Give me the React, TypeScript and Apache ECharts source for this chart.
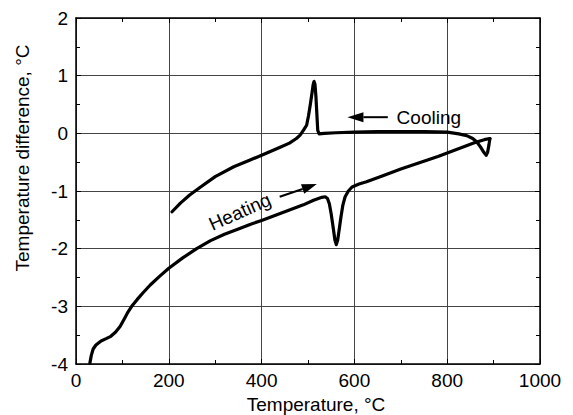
import React, { useEffect, useRef } from "react";
import * as echarts from "echarts";

// Heating run (temperature, °C -> temperature difference, °C)
const heatingT = [
  30, 33, 37, 43, 54, 65, 75, 85, 95, 104, 112, 120, 132, 145, 160, 180, 200, 230, 260, 290, 320, 350,
  375, 400, 430, 460, 490, 512, 530, 537, 542, 546, 550, 554, 558, 561, 564, 567, 571, 575, 580, 587,
  595, 610, 626, 660, 700, 740, 780, 800, 820, 840, 860, 880, 892,
];
const heatingDT = [
  -3.98, -3.85, -3.74, -3.67, -3.6, -3.56, -3.52, -3.45, -3.35, -3.22, -3.1, -3.0, -2.88, -2.76, -2.63,
  -2.48, -2.34, -2.16, -2.0, -1.86, -1.75, -1.66, -1.58, -1.51, -1.42, -1.33, -1.24, -1.16, -1.11, -1.1,
  -1.13, -1.22, -1.4, -1.62, -1.85, -1.93, -1.85, -1.68, -1.45, -1.25, -1.1, -1.0, -0.93, -0.88, -0.84,
  -0.74, -0.62, -0.51, -0.4, -0.34, -0.28, -0.22, -0.16, -0.11, -0.09,
];

// Cooling run (in measurement order, from high to low temperature)
const coolingT = [
  892, 890, 887, 884, 879, 872, 864, 855, 842, 825, 800, 750, 700, 650, 600, 560, 535, 524, 521, 519,
  517, 515, 513, 511, 509, 505, 501, 497, 490, 483, 475, 460, 440, 420, 400, 370, 340, 300, 267, 245,
  225, 207,
];
const coolingDT = [
  -0.09, -0.2, -0.33, -0.38, -0.33, -0.24, -0.15, -0.09, -0.04, -0.01, 0.02, 0.03, 0.03, 0.03, 0.02,
  0.01, 0.0, -0.01, 0.05, 0.35, 0.65, 0.85, 0.9, 0.84, 0.72, 0.5, 0.3, 0.14, 0.05, -0.03, -0.09, -0.17,
  -0.24, -0.31, -0.38, -0.48, -0.58, -0.75, -0.94, -1.07, -1.21, -1.36,
];

const xTitle = "Temperature, °C";
const yTitle = "Temperature difference, °C";
const coolingLabel = "Cooling";
const heatingLabel = "Heating";

const FONT = "'Liberation Sans', Arial, Helvetica, sans-serif";

export default function App() {
  const ref = useRef<HTMLDivElement>(null);

  useEffect(() => {
    document.body.style.margin = "0";
    const chart = echarts.init(ref.current!, null, { renderer: "svg" });

    const axisLine = { show: true, onZero: false, lineStyle: { color: "#000", width: 1.5 } };
    const tick = { show: true, inside: true, length: 5, lineStyle: { color: "#000", width: 1 } };
    const minor = { show: true, splitNumber: 2, length: 4, lineStyle: { color: "#000", width: 1 } };
    const label = {
      fontFamily: FONT,
      fontSize: 19,
      color: "#000",
      formatter: (v: number) => String(v),
    };

    const xBase = { type: "value", min: 0, max: 1000, interval: 200 };
    const yBase = { type: "value", min: -4, max: 2, interval: 1 };

    chart.setOption({
      animation: false,
      backgroundColor: "#fff",
      grid: {
        left: 76,
        right: 33,
        top: 18,
        bottom: 51,
        containLabel: false,
        outerBoundsMode: "none",
      },
      xAxis: [
        {
          ...xBase,
          position: "bottom",
          name: xTitle,
          nameLocation: "middle",
          nameGap: 31,
          nameTextStyle: { fontFamily: FONT, fontSize: 19, color: "#000", padding: [0, 0, 0, 16] },
          axisLine,
          axisTick: tick,
          minorTick: minor,
          axisLabel: { ...label, margin: 7 },
          splitLine: { show: true, lineStyle: { color: "#444", width: 1 } },
        },
        {
          ...xBase,
          position: "top",
          axisLine,
          axisTick: tick,
          minorTick: minor,
          axisLabel: { show: false },
          splitLine: { show: false },
        },
      ],
      yAxis: [
        {
          ...yBase,
          position: "left",
          axisLine,
          axisTick: tick,
          minorTick: minor,
          axisLabel: { ...label, margin: 8 },
          splitLine: { show: true, lineStyle: { color: "#444", width: 1 } },
        },
        {
          ...yBase,
          position: "right",
          axisLine,
          axisTick: tick,
          minorTick: minor,
          axisLabel: { show: false },
          splitLine: { show: false },
        },
      ],
      series: [
        {
          name: "Heating",
          type: "line",
          xAxisIndex: 0,
          yAxisIndex: 0,
          showSymbol: false,
          symbol: "none",
          data: heatingT.map((t, i) => [t, heatingDT[i]]),
          lineStyle: { color: "#000", width: 3.2, join: "round", cap: "round" },
        },
        {
          name: "Cooling",
          type: "line",
          xAxisIndex: 0,
          yAxisIndex: 0,
          showSymbol: false,
          symbol: "none",
          data: coolingT.map((t, i) => [t, coolingDT[i]]),
          lineStyle: { color: "#000", width: 3.2, join: "round", cap: "round" },
        },
      ],
    });

    const px = (x: number, y: number) =>
      chart.convertToPixel({ xAxisIndex: 0, yAxisIndex: 0 }, [x, y]) as number[];

    const arrow = (from: number[], to: number[], headLen: number, headHalf: number) => {
      const a = px(from[0], from[1]);
      const b = px(to[0], to[1]);
      const dx = b[0] - a[0];
      const dy = b[1] - a[1];
      const len = Math.hypot(dx, dy);
      const ux = dx / len;
      const uy = dy / len;
      const bx = b[0] - ux * headLen;
      const by = b[1] - uy * headLen;
      return [
        {
          type: "line",
          shape: { x1: a[0], y1: a[1], x2: bx, y2: by },
          style: { stroke: "#000", lineWidth: 2 },
        },
        {
          type: "polygon",
          shape: {
            points: [
              [b[0], b[1]],
              [bx - uy * headHalf, by + ux * headHalf],
              [bx + uy * headHalf, by - ux * headHalf],
            ],
          },
          style: { fill: "#000" },
        },
      ];
    };

    const coolText = px(691, 0.28);
    const heatText = px(353, -1.36);

    chart.setOption({
      graphic: [
        ...arrow([672, 0.28], [585, 0.28], 16, 5),
        ...arrow([439, -1.1], [519, -0.88], 15, 5),
        {
          type: "text",
          x: coolText[0],
          y: coolText[1],
          style: {
            text: coolingLabel,
            font: `19px ${FONT}`,
            fill: "#000",
            textAlign: "left",
            textVerticalAlign: "middle",
          },
        },
        {
          type: "text",
          x: heatText[0],
          y: heatText[1],
          rotation: (24 * Math.PI) / 180,
          style: {
            text: heatingLabel,
            font: `19px ${FONT}`,
            fill: "#000",
            textAlign: "center",
            textVerticalAlign: "middle",
          },
        },
        {
          type: "text",
          x: 22,
          y: 158,
          rotation: Math.PI / 2,
          style: {
            text: yTitle,
            font: `19px ${FONT}`,
            fill: "#000",
            textAlign: "center",
            textVerticalAlign: "middle",
          },
        },
      ],
    });

    return () => chart.dispose();
  }, []);

  return <div ref={ref} style={{ width: 573, height: 415, position: "absolute", left: 0, top: 0 }} />;
}
